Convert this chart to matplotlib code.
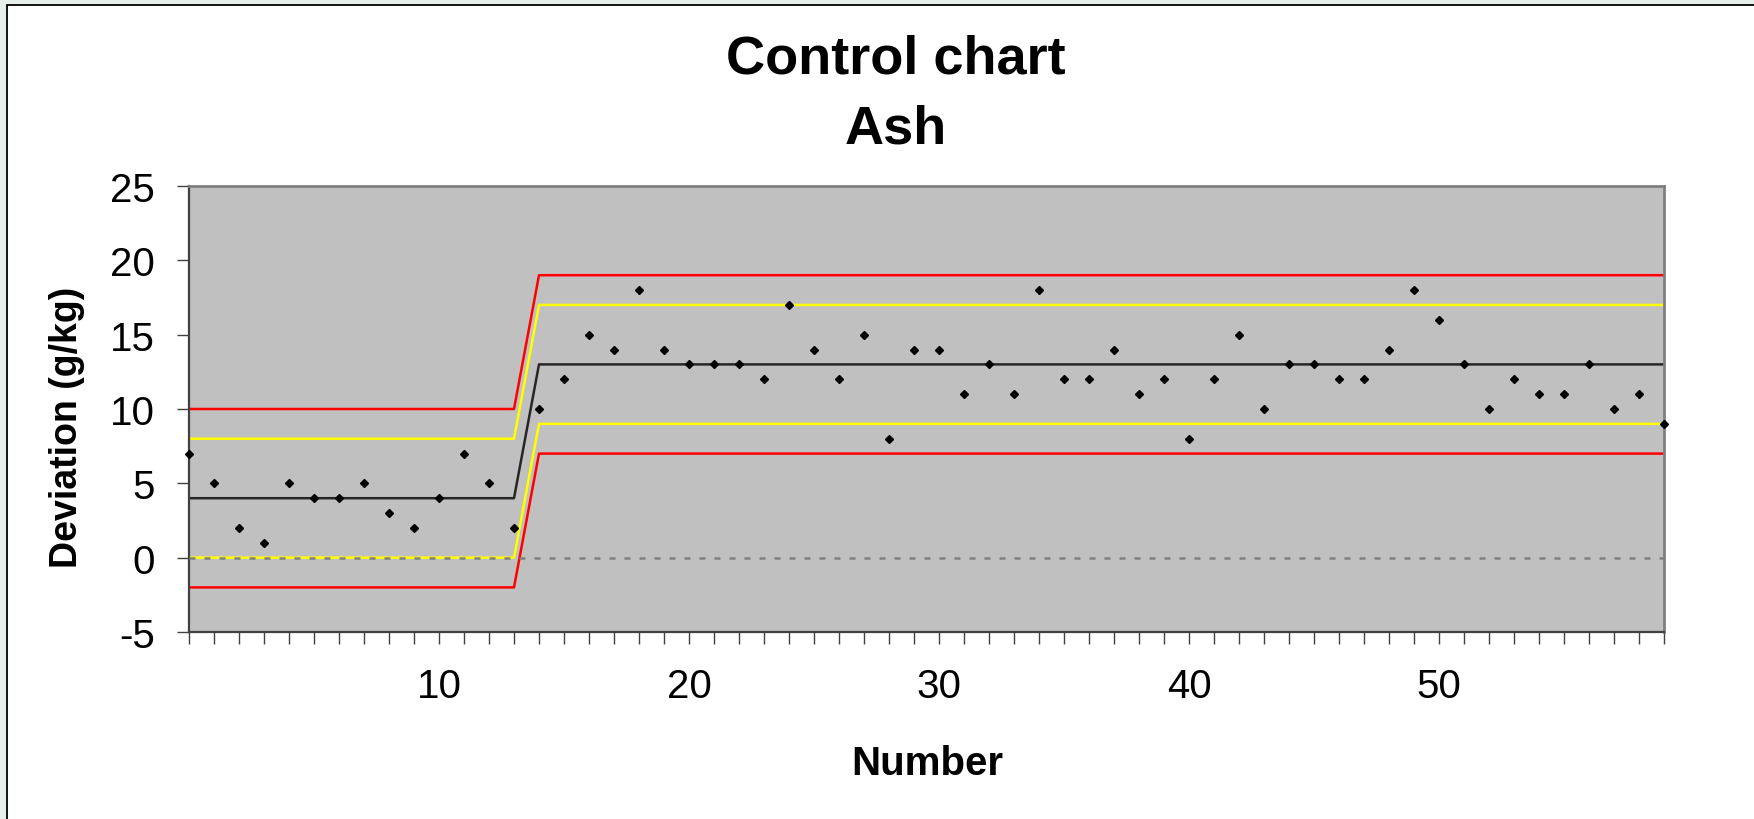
import matplotlib
matplotlib.use("Agg")
import matplotlib.pyplot as plt
from matplotlib.patches import Rectangle

plt.rcParams['font.family'] = ['Liberation Sans', 'DejaVu Sans']
plt.rcParams['axes.unicode_minus'] = False

# sample number and ash deviation (g/kg)
number = list(range(60))
ash = [7, 5, 2, 1, 5, 4, 4, 5, 3, 2, 4, 7, 5, 2,
       10, 12, 15, 14, 18, 14, 13, 13, 13, 12, 17, 14, 12, 15, 8, 14,
       14, 11, 13, 11, 18, 12, 12, 14, 11, 12, 8, 12, 15, 10, 13, 13,
       12, 12, 14, 18, 16, 13, 10, 12, 11, 11, 13, 10, 11, 9]

# control limits, first period (14 samples) and second period
n_first = 14
center_vals = [4, 13]
warn_hi_vals = [8, 17]
warn_lo_vals = [0, 9]
act_hi_vals = [10, 19]
act_lo_vals = [-2, 7]
zero_line = [0] * len(number)


def limit(vals):
    return [vals[0] if i < n_first else vals[1] for i in number]


W, H = 1754, 820
fig = plt.figure(figsize=(W / 100, H / 100), dpi=100)
fig.patch.set_facecolor('#e6efe9')
fig.patches.append(Rectangle((7 / W, -0.1), 2, 1 - 6 / H + 0.1,
                             transform=fig.transFigure, facecolor='white',
                             edgecolor='black', lw=1.3, zorder=-1))

ax = fig.add_axes([189 / W, 1 - 633 / H, (1664 - 189) / W, (633 - 187) / H])
ax.set_facecolor('#c0c0c0')

ax.plot(number, limit(act_hi_vals), color='#ff0000', lw=1.8, zorder=2)
ax.plot(number, limit(act_lo_vals), color='#ff0000', lw=1.8, zorder=2)
ax.plot(number, limit(warn_hi_vals), color='#ffff00', lw=1.8, zorder=2)
ax.plot(number, limit(warn_lo_vals), color='#ffff00', lw=1.8, zorder=2)
ax.plot(number, limit(center_vals), color='#262626', lw=1.8, zorder=2)
ax.plot(number, zero_line, color='#808080', lw=1.8, dashes=(2.4, 3.6), zorder=3)
ax.plot(number, ash, linestyle='none', marker='D', ms=4.2, color='black',
        clip_on=False, zorder=4)

ax.set_xlim(0, 59)
ax.set_ylim(-5, 25)
ax.set_xticks(range(10, 60, 10))
ax.set_xticks(number, minor=True)
ax.set_yticks(range(-5, 30, 5))

ax.tick_params(axis='both', which='both', direction='out', length=8.5,
               width=1, color='#404040', labelsize=29)
ax.tick_params(axis='x', pad=17)
ax.tick_params(axis='y', pad=16)

for side in ['left', 'bottom']:
    ax.spines[side].set_color('#404040')
    ax.spines[side].set_linewidth(1.6)
for side in ['top', 'right']:
    ax.spines[side].set_color('#808080')
    ax.spines[side].set_linewidth(2)

fig.text(896 / W, 1 - 74 / H, 'Control chart', ha='center', va='baseline',
         fontsize=39, weight='bold')
fig.text(896 / W, 1 - 144 / H, 'Ash', ha='center', va='baseline',
         fontsize=39, weight='bold')
fig.text(927 / W, 1 - 775 / H, 'Number', ha='center', va='baseline',
         fontsize=29, weight='bold')
fig.text(77 / W, 1 - 427 / H, 'Deviation (g/kg)', rotation=90,
         rotation_mode='anchor', ha='center', va='baseline',
         fontsize=27, weight='bold')

fig.savefig('out.png', dpi=100)
